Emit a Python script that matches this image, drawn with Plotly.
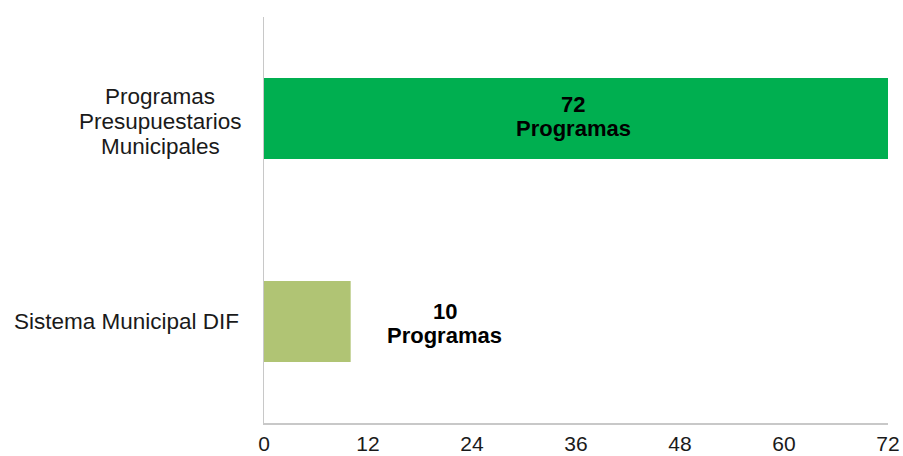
import plotly.graph_objects as go

categories = ["Sistema Municipal DIF", "Programas Presupuestarios Municipales"]
category_lines = [["Sistema Municipal DIF"], ["Programas", "Presupuestarios", "Municipales"]]
values = [10, 72]
bar_label_lines = [["10", "Programas"], ["72", "Programas"]]
bar_colors = ["#B0C474", "#00AF50"]
tick_vals = [0, 12, 24, 36, 48, 60, 72]

FONT = "Liberation Sans, Arial, sans-serif"
LINE_CAT = 25.0   # line spacing of category labels (px)
LINE_BAR = 24.0   # line spacing of bar labels (px)

fig = go.Figure()
fig.add_trace(go.Bar(
    y=categories,
    x=values,
    orientation="h",
    marker=dict(color=bar_colors, line=dict(width=0)),
    hoverinfo="skip",
))

annotations = []
# bar value labels
for i, v in enumerate(values):
    lines = bar_label_lines[i]
    n = len(lines)
    inside = v > 40
    for j, ln in enumerate(lines):
        annotations.append(dict(
            x=v / 2 if inside else v, y=categories[i], xref="x", yref="y",
            text="<b>" + ln + "</b>",
            showarrow=False,
            xanchor="center",
            xshift=-3 if inside else 94,
            yshift=((n - 1) / 2 - j) * LINE_BAR + (2.5 if inside else -1.5),
            font=dict(family=FONT, size=22, color="black"),
        ))
# category labels, centred lines
label_centres = [-138, -104]
for i, c in enumerate(categories):
    lines = category_lines[i]
    n = len(lines)
    for j, ln in enumerate(lines):
        annotations.append(dict(
            x=0, y=c, xref="paper", yref="y",
            text=ln,
            showarrow=False, xanchor="center", xshift=label_centres[i],
            yshift=((n - 1) / 2 - j) * LINE_CAT - (0 if n == 1 else 3),
            font=dict(family=FONT, size=22.5, color="#1a1a1a"),
        ))

fig.update_layout(
    width=903, height=456,
    margin=dict(l=264, r=15, t=17, b=33, autoexpand=False),
    paper_bgcolor="white",
    plot_bgcolor="white",
    bargap=0.6,
    showlegend=False,
    annotations=annotations,
    font=dict(family=FONT, size=21, color="#1a1a1a"),
)
fig.update_xaxes(
    range=[0, 72],
    tickvals=tick_vals,
    ticktext=[str(t) for t in tick_vals],
    showgrid=False, zeroline=False, automargin=False,
    showline=True, linecolor="#C8C8C8", linewidth=1.5,
    ticks="", ticklabelstandoff=1,
    tickfont=dict(family=FONT, size=21, color="#1a1a1a"),
)
fig.update_yaxes(
    type="category",
    categoryorder="array", categoryarray=categories,
    range=[-0.5, 1.5], automargin=False,
    showgrid=False, zeroline=False,
    showline=True, linecolor="#C8C8C8", linewidth=1.5,
    showticklabels=False, ticks="",
)

html = fig.to_html(full_html=True, include_plotlyjs=True,
                   config={"displayModeBar": False, "staticPlot": True})
html = html.replace("<head>", "<head><style>html,body{margin:0;padding:0;overflow:hidden;}</style>", 1)
with open("out.html", "w", encoding="utf-8") as f:
    f.write(html)
